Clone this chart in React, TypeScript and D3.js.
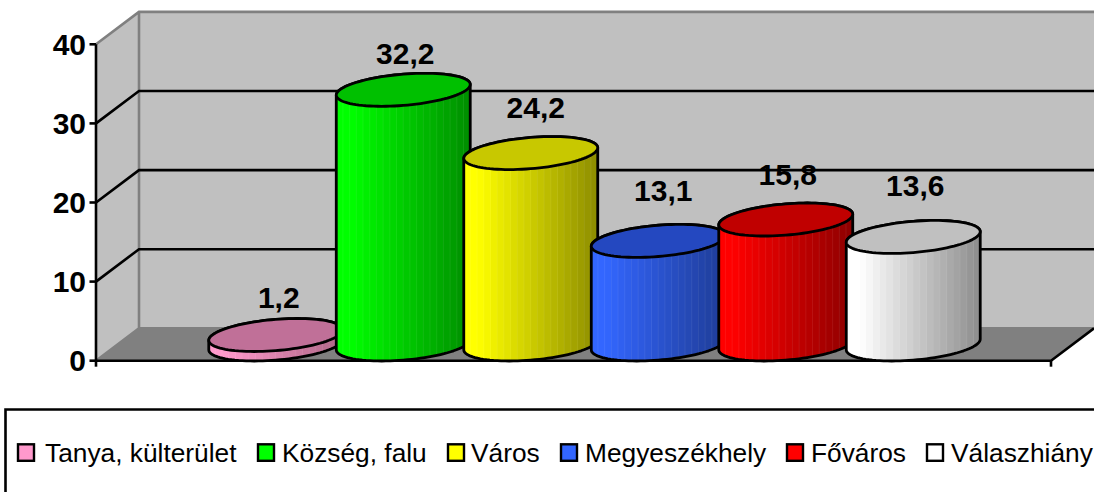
import React from "react";
import * as d3 from "d3";

const categories = ["Tanya, külterület", "Község, falu", "Város", "Megyeszékhely", "Főváros", "Válaszhiány"];
const values = [1.2, 32.2, 24.2, 13.1, 15.8, 13.6];
const valueLabels = ["1,2", "32,2", "24,2", "13,1", "15,8", "13,6"];
const yTicks = [0, 10, 20, 30, 40];
const sideLight = ["#ff99cc", "#00ff00", "#ffff00", "#3366ff", "#ff0000", "#ffffff"];
const sideDark = ["#b06888", "#009000", "#909000", "#1f3d98", "#900000", "#909090"];
const topColors = ["#c07098", "#00c000", "#c8c800", "#2448c0", "#c00000", "#c0c0c0"];
const legendColors = ["#ff99cc", "#00ff00", "#ffff00", "#3366ff", "#ff0000", "#ffffff"];
const labelGaps = [27, 26, 35, 40, 35, 41];
const labelShift = [3, 2, 5, 5, 2, 2];
const legendSwatchX = [18, 258, 448, 561, 787, 927];
const legendTextX = [45, 282, 471, 585, 811, 951];

const W = 1094, H = 492;
const front = { l: 96, r: 1051, y: 360.7 };
const depth = { x: 43, y: 32.4 };
const topY = 44.3;
const FONT = "'Liberation Sans', Arial, sans-serif";

const yScale = d3.scaleLinear().domain([0, 40]).range([front.y, topY]);
const xScale = d3.scaleBand<number>().domain(d3.range(6)).range([212, 977]);

const RX = 63.4, SKEW = 21.6, RY = 16.5;
const baseY = front.y - depth.y / 2;

function ellipsePoint(cx: number, cy: number, t: number): [number, number] {
  return [cx + RX * Math.cos(t) + SKEW * Math.sin(t), cy - RY * Math.sin(t)];
}
const extremeT = Math.atan2(SKEW, RX);

function ellipsePath(cx: number, cy: number) {
  const line = d3.line().curve(d3.curveLinearClosed);
  return line(d3.range(0, 96).map((i) => ellipsePoint(cx, cy, (i / 96) * Math.PI * 2))) as string;
}
function sidePath(cx: number, top: number, bottom: number) {
  const pts: [number, number][] = [];
  d3.range(0, 49).forEach((i) => {
    pts.push(ellipsePoint(cx, top, extremeT + (i / 48) * Math.PI));
  });
  d3.range(0, 49).forEach((i) => {
    pts.push(ellipsePoint(cx, bottom, extremeT + Math.PI + (i / 48) * Math.PI));
  });
  return d3.line()(pts) + "Z";
}

const STRIPES = 20;

function Cylinder({ i }: { i: number }) {
  const cx = (xScale(i) as number) + xScale.bandwidth() / 2;
  const h = yScale(0) - yScale(values[i]);
  const top = baseY - h;
  const d = sidePath(cx, top, baseY);
  const color = d3.scaleLinear<string>().domain([0, 0.08, 1]).range([sideLight[i], sideLight[i], sideDark[i]]);
  const stripeW = 134 / STRIPES;
  return (
    <g>
      <clipPath id={`side${i}`}><path d={d} /></clipPath>
      <g clipPath={`url(#side${i})`}>
        {d3.range(STRIPES).map((s) => (
          <rect key={s} x={cx - 67 + s * stripeW} y={top - 20} width={stripeW + 0.5} height={h + 60}
            fill={color(s / (STRIPES - 1))} shapeRendering="crispEdges" />
        ))}
        {d3.range(1, STRIPES).map((s) => (
          <line key={s} x1={cx - 67 + s * stripeW} x2={cx - 67 + s * stripeW} y1={top - 20} y2={baseY + 40}
            stroke="#fff" strokeOpacity={0.07} strokeWidth={1} />
        ))}
      </g>
      <path d={d} fill="none" stroke="#000" strokeWidth={2.8} strokeLinejoin="round" />
      <path d={ellipsePath(cx, top)} fill={topColors[i]} stroke="#000" strokeWidth={2.8} />
    </g>
  );
}

export default function App() {
  const lx = front.l, rx = front.r, fy = front.y;
  const floor = [[lx, fy], [rx, fy], [rx + depth.x, fy - depth.y], [lx + depth.x, fy - depth.y]];
  const poly = (p: number[][]) => p.map((q) => q.join(",")).join(" ");
  const backX = lx + depth.x, backR = rx + depth.x;
  return (
    <svg width={W} height={H} style={{ position: "fixed", left: 0, top: 0, background: "#fff" }} fontFamily={FONT}>
      {/* walls */}
      <rect x={backX} y={yScale(40) - depth.y} width={backR - backX} height={yScale(0) - yScale(40)} fill="#c0c0c0" />
      <polygon points={poly([[lx, topY], [backX, topY - depth.y], [backX, fy - depth.y], [lx, fy]])} fill="#c0c0c0" />
      <polygon points={poly(floor)} fill="#808080" />
      {/* frame */}
      <path d={`M${lx},${topY}L${backX},${topY - depth.y}L${backR},${topY - depth.y}M${backX},${topY - depth.y}V${fy - depth.y}L${lx},${fy}M${backX},${fy - depth.y}H${backR}`}
        fill="none" stroke="#808080" strokeWidth={2.6} />
      {/* gridlines */}
      {yTicks.filter((t) => t > 0 && t < 40).map((t) => (
        <path key={t} d={`M${lx},${yScale(t)}L${backX},${yScale(t) - depth.y}H${backR}`} fill="none" stroke="#000" strokeWidth={2.6} />
      ))}
      {/* axes */}
      <path d={`M${lx},${topY}V${fy}H${rx}L${backR},${fy - depth.y}`} fill="none" stroke="#000" strokeWidth={2.6} />
      {yTicks.map((t) => (
        <line key={t} x1={lx - 6.5} x2={lx} y1={yScale(t)} y2={yScale(t)} stroke="#000" strokeWidth={2.6} />
      ))}
      <line x1={lx} x2={lx} y1={fy} y2={fy + 6} stroke="#000" strokeWidth={2.6} />
      <line x1={rx} x2={rx} y1={fy} y2={fy + 6} stroke="#000" strokeWidth={2.6} />
      {yTicks.map((t) => (
        <text key={t} x={86} y={yScale(t) + 10.7} textAnchor="end" fontSize={30} fontWeight="bold" fill="#000">{t}</text>
      ))}
      {/* cylinders */}
      {values.map((_, i) => <Cylinder key={i} i={i} />)}
      {/* value labels */}
      {values.map((v, i) => (
        <text key={i} x={(xScale(i) as number) + xScale.bandwidth() / 2 + labelShift[i]} y={baseY - (yScale(0) - yScale(v)) - labelGaps[i]}
          textAnchor="middle" fontSize={30} fontWeight="bold" fill="#000">{valueLabels[i]}</text>
      ))}
      {/* legend */}
      <path d={`M5.5,${H + 5}V409.5H${W + 5}`} fill="none" stroke="#000" strokeWidth={2.6} />
      {categories.map((c, i) => (
        <g key={c}>
          <rect x={legendSwatchX[i]} y={444.3} width={16} height={16.5} fill={legendColors[i]} stroke="#000" strokeWidth={2.4} />
          <text x={legendTextX[i]} y={462} fontSize={26.3} fill="#000">{c}</text>
        </g>
      ))}
    </svg>
  );
}
